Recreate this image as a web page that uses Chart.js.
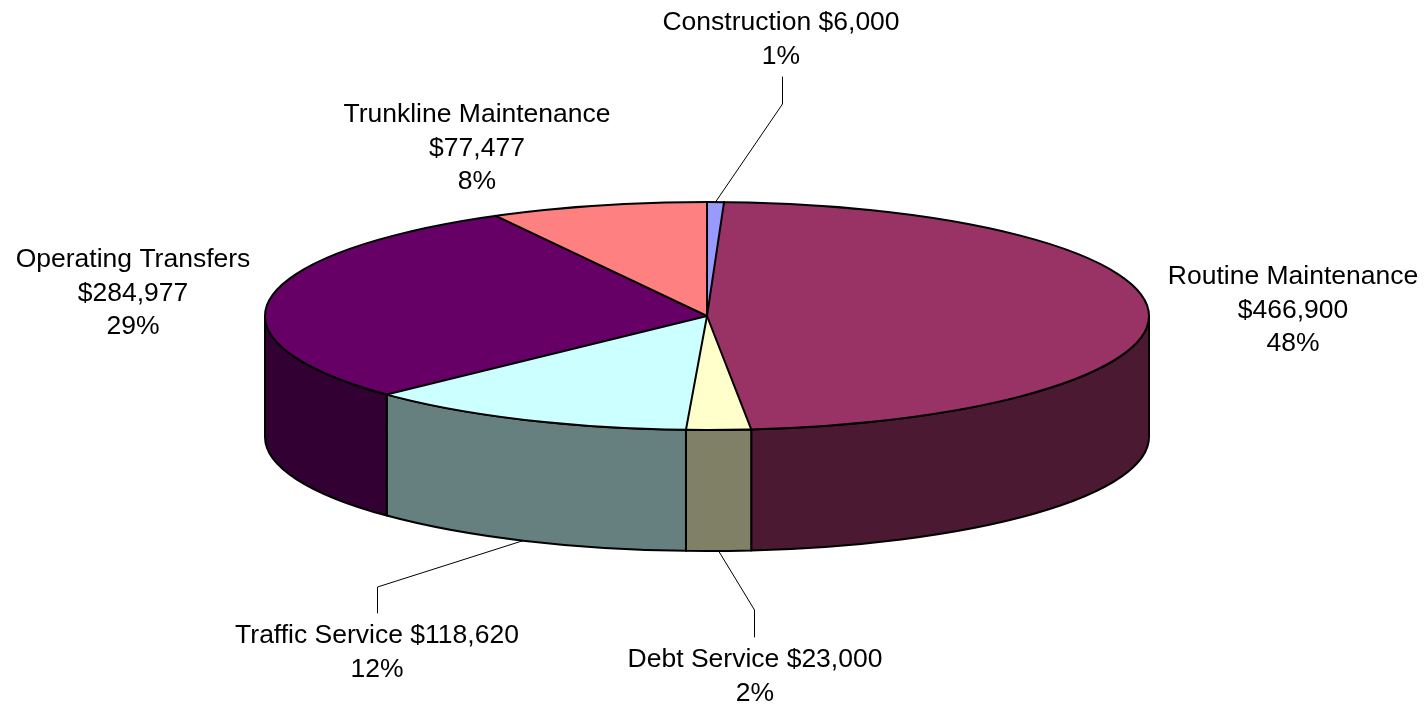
<!DOCTYPE html>
<html>
<head>
<meta charset="utf-8">
<script src="https://cdn.jsdelivr.net/npm/chart.js@4/dist/chart.umd.min.js"></script>
<style>
  html, body { margin: 0; padding: 0; background: #fff; }
  #wrap { width: 1428px; height: 706px; }
</style>
</head>
<body>
<div id="wrap"><canvas id="c" width="1428" height="706"></canvas></div>
<script>
// Expenditure categories and amounts (clockwise from 12 o'clock)
const categories = ['Construction', 'Routine Maintenance', 'Debt Service', 'Traffic Service', 'Operating Transfers', 'Trunkline Maintenance'];
const amounts = [6000, 466900, 23000, 118620, 284977, 77477];
const topColors = ['#9999FF', '#993366', '#FFFFCC', '#CCFFFF', '#660066', '#FF8080'];
const sideColors = ['#4C4C80', '#4C1933', '#808066', '#668080', '#330033', '#804040'];

// Geometry of the tilted disc on the page
const G = { cx: 707, cy: 316, rx: 442, ry: 114, depth: 121 };

// Where each category's label sits (text centre x, first baseline y)
const labelLayout = [
  { x: 781,  y: 30,  oneLine: true,  leader: { x: 782, from: 77,  to: 104 } },
  { x: 1293, y: 284, oneLine: false },
  { x: 755,  y: 667, oneLine: true,  leader: { x: 754, from: 637, to: 610 } },
  { x: 377,  y: 643, oneLine: true,  leader: { x: 377, from: 613, to: 587 } },
  { x: 133,  y: 267, oneLine: false },
  { x: 477,  y: 122, oneLine: false }
];
const LINE_H = 33.5;
const FONT = '26.5px "Liberation Sans", Arial, sans-serif';

const total = amounts.reduce((a, b) => a + b, 0);
const money = v => '$' + v.toLocaleString('en-US');
const pct = v => Math.round(v / total * 100) + '%';

function edgePoint(a, lower) {
  return [G.cx + G.rx * Math.cos(a), G.cy + (lower ? G.depth : 0) + G.ry * Math.sin(a)];
}

const pie3d = {
  id: 'pie3d',
  beforeDatasetsDraw(chart) {
    const ctx = chart.ctx;
    const arcs = chart.getDatasetMeta(0).data;
    // front walls of the disc (the half facing the viewer)
    ctx.save();
    ctx.lineWidth = 2;
    ctx.strokeStyle = '#000';
    ctx.lineJoin = 'round';
    arcs.forEach((arc, i) => {
      const a0 = Math.max(arc.startAngle, 0);
      const a1 = Math.min(arc.endAngle, Math.PI);
      if (a1 <= a0) return;
      ctx.beginPath();
      ctx.ellipse(G.cx, G.cy, G.rx, G.ry, 0, a0, a1);
      const b = edgePoint(a1, true);
      ctx.lineTo(b[0], b[1]);
      ctx.ellipse(G.cx, G.cy + G.depth, G.rx, G.ry, 0, a1, a0, true);
      ctx.closePath();
      ctx.fillStyle = sideColors[i];
      ctx.fill();
      ctx.stroke();
    });
    ctx.restore();
    // squash the library's round pie into the tilted top face
    const a = arcs[0];
    ctx.save();
    ctx.translate(G.cx, G.cy);
    ctx.scale(G.rx / a.outerRadius, G.ry / a.outerRadius);
    ctx.translate(-a.x, -a.y);
  },
  afterDatasetsDraw(chart) {
    const ctx = chart.ctx;
    ctx.restore();
    const arcs = chart.getDatasetMeta(0).data;
    ctx.save();
    // top face outline and slice edges
    ctx.lineWidth = 2;
    ctx.strokeStyle = '#000';
    ctx.lineJoin = 'round';
    ctx.lineCap = 'round';
    arcs.forEach(arc => {
      const p = edgePoint(arc.startAngle, false);
      ctx.beginPath();
      ctx.moveTo(G.cx, G.cy);
      ctx.lineTo(p[0], p[1]);
      ctx.stroke();
    });
    ctx.beginPath();
    ctx.ellipse(G.cx, G.cy, G.rx, G.ry, 0, 0, Math.PI * 2);
    ctx.stroke();

    // labels and leader lines
    ctx.font = FONT;
    ctx.fillStyle = '#000';
    ctx.textAlign = 'center';
    ctx.textBaseline = 'alphabetic';
    arcs.forEach((arc, i) => {
      const L = labelLayout[i];
      const lines = L.oneLine
        ? [categories[i] + ' ' + money(amounts[i]), pct(amounts[i])]
        : [categories[i], money(amounts[i]), pct(amounts[i])];
      lines.forEach((t, k) => ctx.fillText(t, L.x, L.y + k * LINE_H));
      if (L.leader) {
        const mid = (arc.startAngle + arc.endAngle) / 2;
        const tip = edgePoint(mid, Math.sin(mid) > 0);
        ctx.beginPath();
        ctx.lineWidth = 1;
        ctx.strokeStyle = '#000';
        ctx.moveTo(L.leader.x + 0.5, L.leader.from);
        ctx.lineTo(L.leader.x + 0.5, L.leader.to);
        ctx.lineTo(tip[0], tip[1]);
        ctx.stroke();
      }
    });
    ctx.restore();
  }
};

new Chart(document.getElementById('c'), {
  type: 'pie',
  data: {
    labels: categories,
    datasets: [{
      data: amounts,
      backgroundColor: topColors,
      borderWidth: 0,
      clip: false
    }]
  },
  options: {
    responsive: false,
    animation: false,
    devicePixelRatio: 1,
    events: [],
    layout: { padding: 40 },
    plugins: {
      legend: { display: false },
      tooltip: { enabled: false }
    }
  },
  plugins: [pie3d]
});
</script>
</body>
</html>
